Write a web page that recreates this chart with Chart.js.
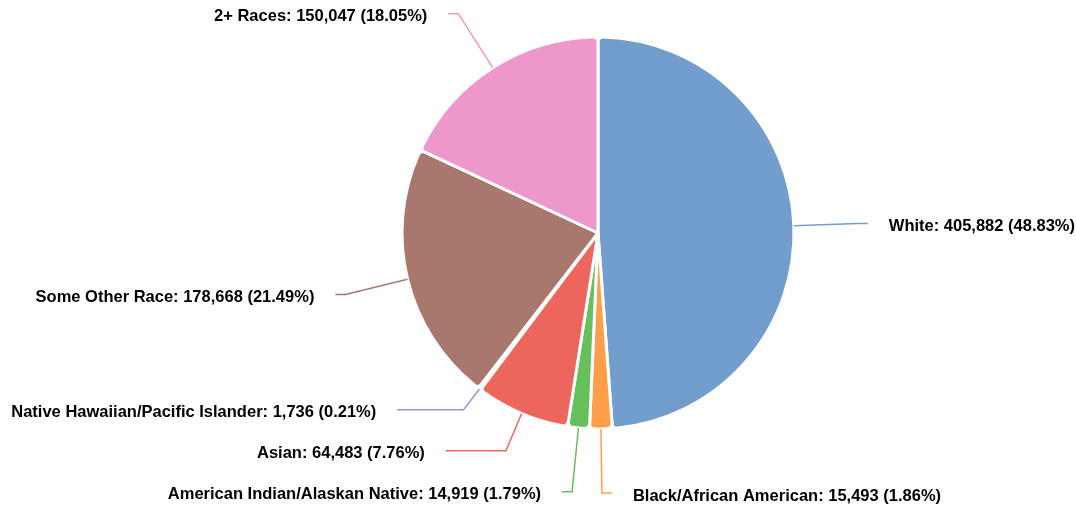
<!DOCTYPE html>
<html>
<head>
<meta charset="utf-8">
<title>Population by Race</title>
<script src="https://cdn.jsdelivr.net/npm/chart.js@4/dist/chart.umd.min.js"></script>
<style>
  html, body { margin: 0; padding: 0; background: #ffffff; }
  #wrap { width: 1076px; height: 506px; }
</style>
</head>
<body>
<div id="wrap"><canvas id="chart" width="1076" height="506"></canvas></div>
<script>
// Population counts by race
const categories = [
  'White',
  'Black/African American',
  'American Indian/Alaskan Native',
  'Asian',
  'Native Hawaiian/Pacific Islander',
  'Some Other Race',
  '2+ Races'
];
const populations = [405882, 15493, 14919, 64483, 1736, 178668, 150047];
const sliceColors = ['#729ECE', '#FF9E4A', '#67BF5C', '#ED665D', '#AD8BC9', '#A8786E', '#ED97CA'];

const total = populations.reduce((a, b) => a + b, 0);
const labelText = (i) => {
  const pct = (populations[i] / total * 100).toFixed(2);
  return categories[i] + ': ' + populations[i].toLocaleString('en-US') + ' (' + pct + '%)';
};

// Outside labels with elbow leader lines; labels on the same side are
// pushed apart vertically so they never overlap.
const leaderLabels = {
  id: 'leaderLabels',
  afterDatasetsDraw(chart, args, opts) {
    const ctx = chart.ctx;
    const arcs = chart.getDatasetMeta(0).data;
    if (!arcs.length) return;
    const cx = arcs[0].x, cy = arcs[0].y;
    const r = arcs[0].outerRadius;
    const len = opts.length, len2 = opts.length2, gap = opts.gap, minSpace = opts.minSpacing;
    const R = r + len;

    const items = arcs.map((arc, i) => {
      const mid = (arc.startAngle + arc.endAngle) / 2;
      const dx = Math.cos(mid), dy = Math.sin(mid);
      const edge = { x: cx + r * dx, y: cy + r * dy };
      const natural = edge.y + len * dy;
      return { i, dx, dy, edge, side: dx >= 0 ? 1 : -1, natural, y: natural };
    });

    [1, -1].forEach(side => {
      const group = items.filter(it => it.side === side).sort((a, b) => a.natural - b.natural);
      for (let k = group.length - 2; k >= 0; k--) {
        group[k].y = Math.min(group[k].y, group[k + 1].y - minSpace);
      }
    });

    ctx.save();
    ctx.font = opts.font;
    ctx.textBaseline = 'middle';
    items.forEach(it => {
      const shifted = Math.abs(it.y - it.natural) > 0.5;
      let ex = Math.abs(it.dy) > 1e-3 ? it.edge.x + (it.y - it.edge.y) * it.dx / it.dy : it.edge.x + len * it.dx;
      let endX;
      if (shifted) {
        const h = Math.sqrt(Math.max(R * R - (it.y - cy) * (it.y - cy), 0));
        endX = cx + it.side * (h + len2);
        if (it.side * endX < it.side * ex + len2) endX = ex + it.side * len2;
      } else {
        endX = ex + it.side * len2;
      }

      ctx.beginPath();
      ctx.moveTo(it.edge.x, it.edge.y);
      ctx.lineTo(ex, it.y);
      ctx.lineTo(endX, it.y);
      ctx.strokeStyle = sliceColors[it.i];
      ctx.lineWidth = 1.5;
      ctx.stroke();

      ctx.fillStyle = opts.color;
      ctx.textAlign = it.side > 0 ? 'left' : 'right';
      ctx.fillText(labelText(it.i), endX + it.side * gap, it.y + 3);
    });
    ctx.restore();
  }
};

new Chart(document.getElementById('chart'), {
  type: 'pie',
  data: {
    labels: categories,
    datasets: [{
      data: populations,
      backgroundColor: sliceColors,
      borderColor: '#ffffff',
      borderWidth: 3,
      borderRadius: { outerStart: 5, outerEnd: 5, innerStart: 0, innerEnd: 0 }
    }]
  },
  options: {
    responsive: false,
    animation: false,
    radius: 196,
    layout: { padding: { left: 120, right: 0, top: 0, bottom: 40 } },
    plugins: {
      legend: { display: false },
      tooltip: { enabled: false },
      leaderLabels: {
        length: 64,
        length2: 10,
        gap: 21,
        minSpacing: 41,
        font: 'bold 16.5px "Liberation Sans", Arial, Helvetica, sans-serif',
        color: '#000000'
      }
    }
  },
  plugins: [leaderLabels]
});
</script>
</body>
</html>
